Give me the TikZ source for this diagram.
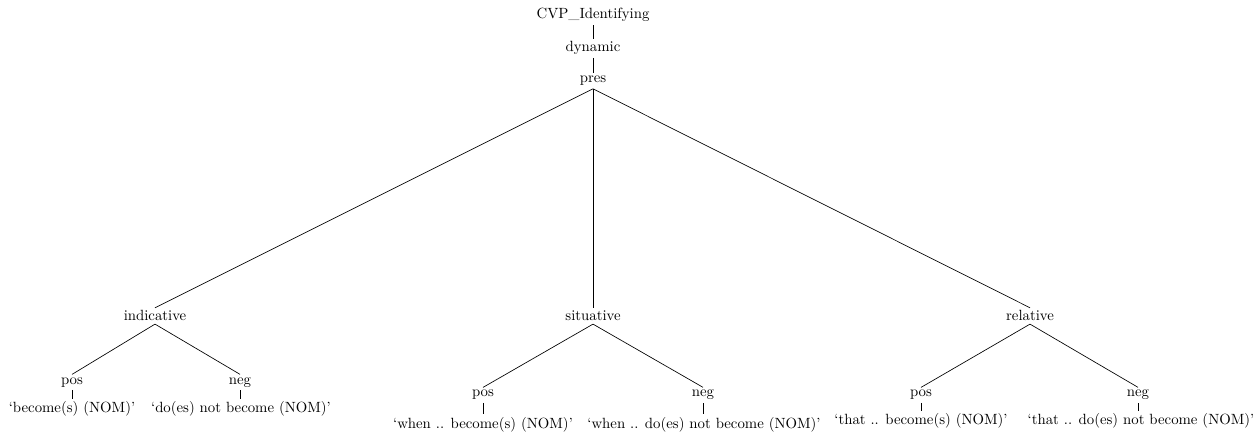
\documentclass[tikz,border=0pt]{standalone}
\begin{document}
\begin{tikzpicture}[x=0.6757pt, y=-0.6757pt,
  lbl/.style={anchor=base, inner sep=2pt, outer sep=0pt, font=\normalsize},
  edge/.style={draw=black, line width=0.45pt}]
\useasboundingbox (0,0) rectangle (1258,435);
% upper chain
\node[lbl] (root) at (593,19) {CVP\_Identifying};
\node[lbl] (dyn)  at (593,52) {dynamic};
\node[lbl] (pres) at (593,83) {pres};
% mood level
\node[lbl] (ind) at (155,321) {indicative};
\node[lbl] (sit) at (593,321) {situative};
\node[lbl] (rel) at (1030,321) {relative};
% polarity level
\node[lbl] (indpos) at (72,384)   {pos};
\node[lbl] (indneg) at (240,384)  {neg};
\node[lbl] (sitpos) at (483,397)  {pos};
\node[lbl] (sitneg) at (703,397)  {neg};
\node[lbl] (relpos) at (921,397)  {pos};
\node[lbl] (relneg) at (1138,397) {neg};
% glosses
\node[lbl] (indposg) at (72,413)   {`become(s) (NOM)'};
\node[lbl] (indnegg) at (241,413)  {`do(es) not become (NOM)'};
\node[lbl] (sitposg) at (483,428)  {`when .. become(s) (NOM)'};
\node[lbl] (sitnegg) at (704,428)  {`when .. do(es) not become (NOM)'};
\node[lbl] (relposg) at (921,425)  {`that .. become(s) (NOM)'};
\node[lbl] (relnegg) at (1141,425) {`that .. do(es) not become (NOM)'};
% branches
\draw[edge] (root.south) -- (dyn.north);
\draw[edge] (dyn.south) -- (pres.north);
\foreach \c in {ind,sit,rel} \draw[edge] (pres.south) -- (\c.north);
\draw[edge] (ind.south) -- (indpos.north);
\draw[edge] (ind.south) -- (indneg.north);
\draw[edge] (sit.south) -- (sitpos.north);
\draw[edge] (sit.south) -- (sitneg.north);
\draw[edge] (rel.south) -- (relpos.north);
\draw[edge] (rel.south) -- (relneg.north);
\foreach \p in {indpos,indneg,sitpos,sitneg,relpos,relneg}
  \draw[edge] (\p.south) -- (\p.south |- \p g.north);
\end{tikzpicture}
\end{document}
